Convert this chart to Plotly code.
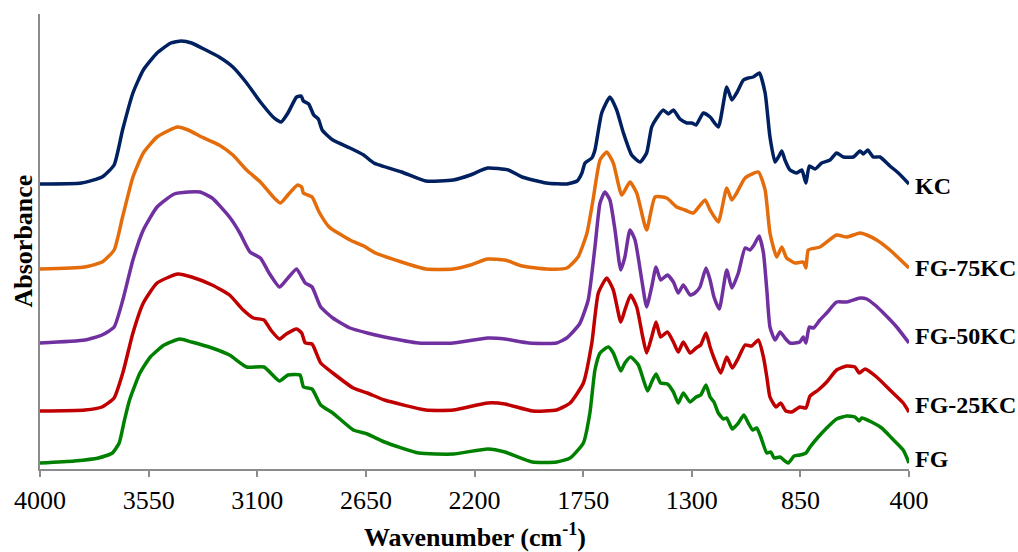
import plotly.graph_objects as go

# FTIR spectra, offset vertically (arbitrary absorbance units)
KC_WN = [4000, 3828, 3743, 3693, 3658, 3615, 3572, 3515, 3458, 3415, 3372, 3330, 3258, 3201, 3144, 3087, 3030, 3001, 2973, 2937,
         2918, 2909, 2887, 2866, 2847, 2831, 2787, 2716, 2659, 2617, 2502, 2402, 2288, 2217, 2146, 2060, 2003, 1903, 1817, 1775,
         1755, 1742, 1714, 1701, 1673, 1639, 1611, 1583, 1549, 1514, 1487, 1466, 1445, 1418, 1397, 1376, 1349, 1321, 1300, 1282,
         1252, 1224, 1190, 1155, 1134, 1114, 1086, 1066, 1045, 1020, 996, 976, 955, 941, 927, 914, 893, 865, 844, 827,
         813, 789, 762, 727, 700, 672, 631, 603, 589, 571, 548, 520, 479, 444, 400]
KC_ABS = [2.85, 2.86, 2.92, 3.04, 3.39, 3.76, 3.99, 4.16, 4.26, 4.28, 4.26, 4.21, 4.12, 4.02, 3.86, 3.67, 3.51, 3.47, 3.56, 3.72,
          3.73, 3.68, 3.65, 3.54, 3.50, 3.39, 3.29, 3.21, 3.14, 3.06, 2.97, 2.88, 2.89, 2.94, 3.01, 2.99, 2.92, 2.86, 2.85, 2.88,
          2.96, 3.06, 3.11, 3.19, 3.56, 3.72, 3.59, 3.36, 3.14, 3.07, 3.16, 3.42, 3.51, 3.59, 3.55, 3.59, 3.50, 3.46, 3.46, 3.44,
          3.56, 3.52, 3.42, 3.82, 3.69, 3.76, 3.89, 3.91, 3.92, 3.96, 3.76, 3.32, 3.07, 3.12, 3.18, 3.09, 2.99, 2.96, 2.99, 2.86,
          3.03, 3.00, 3.06, 3.09, 3.16, 3.12, 3.12, 3.18, 3.15, 3.19, 3.12, 3.12, 3.03, 2.96, 2.85]

FG75_WN = [4000, 3815, 3743, 3693, 3658, 3615, 3572, 3515, 3430, 3386, 3330, 3258, 3201, 3144, 3087, 3030, 3004, 2973, 2933, 2916,
           2909, 2873, 2844, 2802, 2716, 2659, 2610, 2502, 2402, 2288, 2217, 2146, 2074, 2003, 1903, 1817, 1771, 1734, 1709, 1680,
           1652, 1625, 1590, 1556, 1528, 1487, 1452, 1404, 1362, 1328, 1294, 1245, 1224, 1190, 1155, 1134, 1114, 1079, 1024, 996,
           976, 948, 927, 907, 872, 838, 827, 817, 769, 700, 658, 603, 575, 534, 479, 400]
FG75_ABS = [2.00, 2.02, 2.07, 2.19, 2.52, 2.92, 3.16, 3.32, 3.42, 3.39, 3.32, 3.24, 3.14, 2.99, 2.87, 2.71, 2.66, 2.74, 2.84, 2.82,
            2.76, 2.72, 2.57, 2.42, 2.29, 2.23, 2.16, 2.07, 2.00, 2.00, 2.04, 2.10, 2.09, 2.03, 2.00, 2.01, 2.12, 2.36, 2.69, 3.09,
            3.17, 3.06, 2.74, 2.87, 2.76, 2.39, 2.72, 2.71, 2.62, 2.59, 2.56, 2.69, 2.59, 2.47, 2.81, 2.69, 2.76, 2.91, 2.97, 2.79,
            2.36, 2.12, 2.22, 2.11, 2.06, 2.07, 2.01, 2.19, 2.22, 2.34, 2.32, 2.36, 2.34, 2.29, 2.19, 2.01]

FG50_WN = [4000, 3814, 3743, 3693, 3657, 3615, 3572, 3515, 3444, 3386, 3337, 3287, 3215, 3172, 3130, 3087, 3051, 3008, 2980, 2937,
           2916, 2901, 2873, 2837, 2787, 2716, 2644, 2573, 2431, 2288, 2145, 2074, 1974, 1860, 1818, 1765, 1729, 1701, 1680, 1660,
           1639, 1618, 1594, 1577, 1556, 1535, 1507, 1487, 1466, 1448, 1429, 1401, 1376, 1356, 1335, 1307, 1287, 1266, 1241, 1224,
           1208, 1186, 1155, 1134, 1107, 1079, 1059, 1042, 1021, 1003, 989, 976, 955, 934, 914, 893, 852, 838, 827, 813,
           796, 769, 741, 700, 658, 603, 575, 541, 506, 451, 400]
FG50_ABS = [1.26, 1.29, 1.34, 1.42, 1.69, 2.09, 2.39, 2.62, 2.75, 2.77, 2.77, 2.71, 2.52, 2.36, 2.17, 2.11, 1.96, 1.82, 1.89, 2.00,
            1.92, 1.86, 1.82, 1.62, 1.51, 1.41, 1.36, 1.32, 1.26, 1.26, 1.31, 1.30, 1.26, 1.26, 1.31, 1.45, 1.69, 2.22, 2.66, 2.77,
            2.69, 2.39, 1.99, 2.12, 2.39, 2.29, 1.89, 1.62, 1.82, 2.02, 1.89, 1.94, 1.87, 1.76, 1.84, 1.74, 1.76, 1.82, 2.01, 1.89,
            1.72, 1.60, 1.99, 1.81, 1.96, 2.21, 2.19, 2.24, 2.33, 2.16, 1.79, 1.42, 1.29, 1.37, 1.31, 1.26, 1.27, 1.32, 1.26, 1.42,
            1.41, 1.49, 1.56, 1.67, 1.67, 1.71, 1.70, 1.64, 1.56, 1.42, 1.26]

FG25_WN = [4000, 3814, 3743, 3693, 3657, 3615, 3572, 3515, 3429, 3372, 3287, 3215, 3158, 3116, 3072, 3044, 3008, 2980, 2937, 2916,
           2901, 2873, 2837, 2787, 2702, 2644, 2573, 2402, 2288, 2145, 2074, 1960, 1860, 1804, 1749, 1714, 1687, 1652, 1625, 1594,
           1577, 1553, 1528, 1503, 1487, 1466, 1448, 1429, 1401, 1376, 1356, 1335, 1307, 1282, 1263, 1241, 1224, 1208, 1180, 1155,
           1132, 1107, 1079, 1052, 1024, 1003, 989, 976, 951, 932, 910, 886, 852, 827, 810, 776, 741, 700, 658, 624,
           606, 582, 534, 479, 424, 400]
FG25_ABS = [0.58, 0.59, 0.62, 0.71, 0.96, 1.36, 1.66, 1.86, 1.95, 1.92, 1.84, 1.74, 1.59, 1.51, 1.49, 1.39, 1.30, 1.35, 1.40, 1.36,
            1.26, 1.25, 1.06, 0.96, 0.81, 0.76, 0.69, 0.59, 0.59, 0.66, 0.65, 0.58, 0.59, 0.66, 0.86, 1.26, 1.76, 1.91, 1.79, 1.47,
            1.59, 1.74, 1.62, 1.32, 1.16, 1.32, 1.47, 1.32, 1.37, 1.27, 1.17, 1.27, 1.16, 1.21, 1.24, 1.36, 1.22, 1.11, 0.96, 1.12,
            1.01, 1.11, 1.24, 1.23, 1.29, 1.12, 0.92, 0.72, 0.62, 0.66, 0.58, 0.57, 0.62, 0.61, 0.73, 0.79, 0.87, 0.99, 1.03, 1.02,
            0.96, 1.00, 0.92, 0.79, 0.66, 0.57]

FG_WN = [4000, 3858, 3758, 3700, 3672, 3650, 3629, 3586, 3543, 3486, 3422, 3372, 3287, 3215, 3144, 3072, 3008, 2973, 2923, 2908,
         2873, 2837, 2787, 2702, 2644, 2573, 2431, 2288, 2145, 2074, 1960, 1860, 1804, 1749, 1722, 1701, 1680, 1646, 1625, 1594,
         1577, 1553, 1521, 1500, 1483, 1466, 1448, 1429, 1401, 1376, 1356, 1335, 1307, 1282, 1263, 1241, 1224, 1208, 1190, 1169,
         1155, 1132, 1107, 1084, 1066, 1048, 1031, 1014, 989, 972, 959, 934, 914, 900, 876, 852, 827, 810, 776, 741,
         700, 658, 624, 606, 596, 555, 513, 472, 424, 400]
FG_ABS = [0.06, 0.08, 0.11, 0.16, 0.26, 0.49, 0.69, 0.96, 1.12, 1.24, 1.30, 1.27, 1.21, 1.14, 1.02, 1.02, 0.88, 0.94, 0.94, 0.82,
          0.80, 0.64, 0.56, 0.39, 0.35, 0.27, 0.16, 0.15, 0.20, 0.17, 0.07, 0.07, 0.11, 0.26, 0.56, 0.99, 1.16, 1.22, 1.16, 0.98,
          1.06, 1.12, 1.04, 0.89, 0.78, 0.87, 0.95, 0.86, 0.85, 0.77, 0.66, 0.76, 0.67, 0.72, 0.74, 0.84, 0.72, 0.67, 0.56, 0.50,
          0.51, 0.40, 0.46, 0.54, 0.46, 0.39, 0.41, 0.32, 0.16, 0.17, 0.11, 0.12, 0.08, 0.06, 0.13, 0.14, 0.16, 0.22, 0.32, 0.41,
          0.50, 0.53, 0.52, 0.48, 0.51, 0.47, 0.41, 0.31, 0.19, 0.06]

SAMPLES = ["KC", "FG-75KC", "FG-50KC", "FG-25KC", "FG"]
TICKS = [4000, 3550, 3100, 2650, 2200, 1750, 1300, 850, 400]

series = [
    (KC_WN, KC_ABS, "#002060", -2),
    (FG75_WN, FG75_ABS, "#E46C0A", 0),
    (FG50_WN, FG50_ABS, "#7030A0", 7),
    (FG25_WN, FG25_ABS, "#C00000", 7),
    (FG_WN, FG_ABS, "#008000", 4),
]

FONT = "Liberation Serif, Times New Roman, serif"

fig = go.Figure()
for name, (wn, ab, color, shift) in zip(SAMPLES, series):
    fig.add_trace(go.Scatter(
        x=wn, y=ab, mode="lines", name=name,
        line=dict(color=color, width=3.5, shape="spline", smoothing=0.5),
        showlegend=False, hoverinfo="skip",
    ))
    fig.add_annotation(
        x=wn[-1], y=ab[-1], text=f"<b>{name}</b>", showarrow=False,
        xanchor="left", yanchor="middle", xshift=4, yshift=shift,
        font=dict(family=FONT, size=24, color="black"),
    )

# Axis titles placed relative to the plot frame
fig.add_annotation(
    x=0.5, y=0, xref="paper", yref="paper", yshift=-66,
    text="<b>Wavenumber (cm<sup>-1</sup>)</b>", showarrow=False,
    xanchor="center", yanchor="middle",
    font=dict(family=FONT, size=26, color="black"),
)
fig.add_annotation(
    x=0, y=0.5, xref="paper", yref="paper", xshift=-17,
    text="<b>Absorbance</b>", showarrow=False, textangle=-90,
    xanchor="center", yanchor="middle",
    font=dict(family=FONT, size=26, color="black"),
)

fig.update_layout(
    width=1018, height=552,
    margin=dict(l=40, r=109, t=14, b=83),
    paper_bgcolor="white", plot_bgcolor="white",
    font=dict(family=FONT, color="black"),
    xaxis=dict(
        range=[4000, 400], tickvals=TICKS, ticktext=[str(t) for t in TICKS],
        ticks="outside", ticklen=6, tickcolor="#8c8c8c", tickwidth=1.5,
        ticklabelstandoff=1, automargin=False,
        showline=True, linecolor="#8c8c8c", linewidth=2,
        showgrid=False, zeroline=False,
        tickfont=dict(family=FONT, size=26, color="black"),
    ),
    yaxis=dict(
        range=[0, 4.55], showticklabels=False, ticks="", automargin=False,
        showline=True, linecolor="#8c8c8c", linewidth=2,
        showgrid=False, zeroline=False,
    ),
)

fig.write_html("out.html")
